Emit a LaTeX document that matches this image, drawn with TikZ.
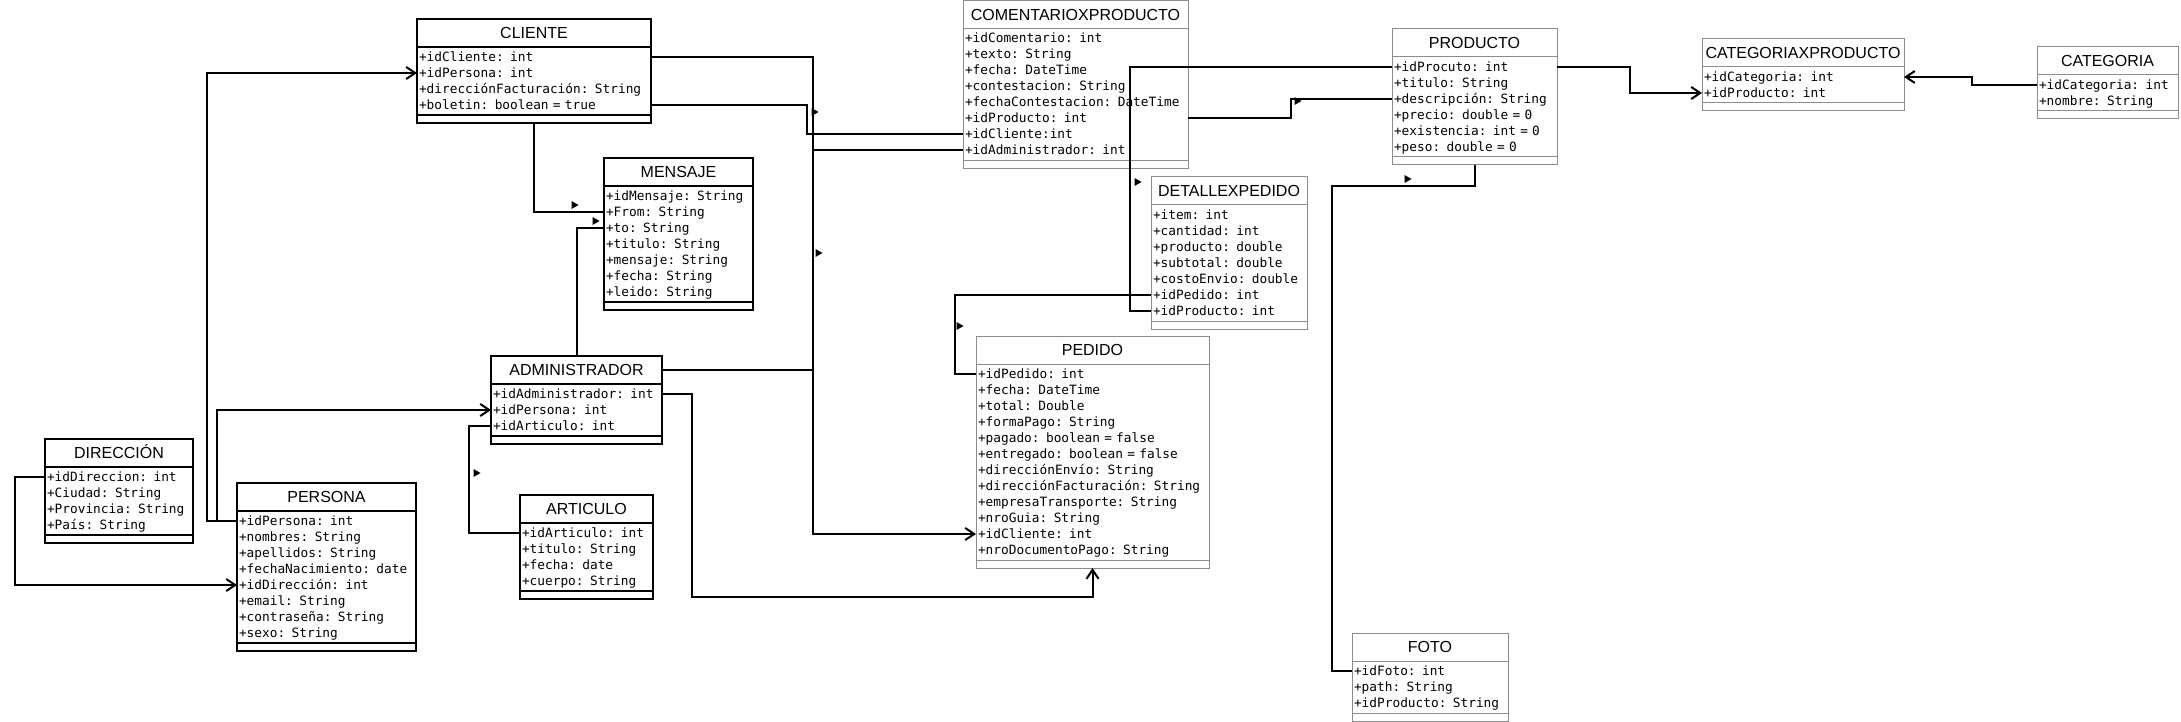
\documentclass[tikz,border=0pt]{standalone}
\usepackage{fontspec}
\setmainfont{Liberation Sans}
\newfontfamily\monoattr{DejaVu Sans Mono}
\usetikzlibrary{arrows.meta,positioning}
\definecolor{boxgray}{gray}{0.55}
\newcommand\titlefont{\fontsize{16pt}{18pt}\selectfont}
\newcommand\attrfont{\monoattr\fontsize{12.8pt}{16pt}\selectfont}
\newcommand\rs{\rule[-3.5pt]{0pt}{16pt}}

\begin{document}
\begin{tikzpicture}[x=1pt,y=-1pt,
hdr/.style={draw,outer sep=0pt,inner sep=0pt,anchor=north west,minimum height=28pt,
text height=11.5pt,text depth=0pt,font=\titlefont},
attrs/.style={draw,outer sep=0pt,inner xsep=2pt,inner ysep=2pt,align=left,font=\attrfont},
foot/.style={draw,outer sep=0pt,inner sep=0pt,minimum height=8pt},
heavy/.style={line width=2pt},
light/.style={line width=1pt,draw=boxgray},
link/.style={line width=2pt},
navi/.style={-{Straight Barb[length=9pt,width=12pt]}}]
\fill[white] (0,0) rectangle (2181,722);
\useasboundingbox (0,0) rectangle (2181,722);
\node[hdr,heavy,minimum width=234pt] (cliente) at (417,19) {CLIENTE};
\node[attrs,heavy,text width=230pt,below=0pt of cliente] (cliente-a)
{\rs+idCliente: int\\\rs+idPersona: int\\\rs+direcciónFacturación: String\\\rs+boletin: boolean = true};
\node[foot,heavy,minimum width=234pt,below=0pt of cliente-a] (cliente-f) {};
\node[hdr,heavy,minimum width=149pt] (mensaje) at (604,158) {MENSAJE};
\node[attrs,heavy,text width=145pt,below=0pt of mensaje] (mensaje-a)
{\rs+idMensaje: String\\\rs+From: String\\\rs+to: String\\\rs+titulo: String\\\rs+mensaje: String\\\rs+fecha: String\\\rs+leido: String};
\node[foot,heavy,minimum width=149pt,below=0pt of mensaje-a] (mensaje-f) {};
\node[hdr,heavy,minimum width=148pt] (direccion) at (45,439) {DIRECCIÓN};
\node[attrs,heavy,text width=144pt,below=0pt of direccion] (direccion-a)
{\rs+idDireccion: int\\\rs+Ciudad: String\\\rs+Provincia: String\\\rs+País: String};
\node[foot,heavy,minimum width=148pt,below=0pt of direccion-a] (direccion-f) {};
\node[hdr,heavy,minimum width=179pt] (persona) at (237,483) {PERSONA};
\node[attrs,heavy,text width=175pt,below=0pt of persona] (persona-a)
{\rs+idPersona: int\\\rs+nombres: String\\\rs+apellidos: String\\\rs+fechaNacimiento: date\\\rs+idDirección: int\\\rs+email: String\\\rs+contraseña: String\\\rs+sexo: String};
\node[foot,heavy,minimum width=179pt,below=0pt of persona-a] (persona-f) {};
\node[hdr,heavy,minimum width=171pt] (admin) at (491,356) {ADMINISTRADOR};
\node[attrs,heavy,text width=167pt,below=0pt of admin] (admin-a)
{\rs+idAdministrador: int\\\rs+idPersona: int\\\rs+idArticulo: int};
\node[foot,heavy,minimum width=171pt,below=0pt of admin-a] (admin-f) {};
\node[hdr,heavy,minimum width=133pt] (articulo) at (520,495) {ARTICULO};
\node[attrs,heavy,text width=129pt,below=0pt of articulo] (articulo-a)
{\rs+idArticulo: int\\\rs+titulo: String\\\rs+fecha: date\\\rs+cuerpo: String};
\node[foot,heavy,minimum width=133pt,below=0pt of articulo-a] (articulo-f) {};
\node[hdr,light,minimum width=233pt] (pedido) at (976,336) {PEDIDO};
\node[attrs,light,text width=229pt,below=0pt of pedido] (pedido-a)
{\rs+idPedido: int\\\rs+fecha: DateTime\\\rs+total: Double\\\rs+formaPago: String\\\rs+pagado: boolean = false\\\rs+entregado: boolean = false\\\rs+direcciónEnvío: String\\\rs+direcciónFacturación: String\\\rs+empresaTransporte: String\\\rs+nroGuia: String\\\rs+idCliente: int\\\rs+nroDocumentoPago: String};
\node[foot,light,minimum width=233pt,below=0pt of pedido-a] (pedido-f) {};
\node[hdr,light,minimum width=225pt] (coment) at (963,0.5) {COMENTARIOXPRODUCTO};
\node[attrs,light,text width=221pt,below=0pt of coment] (coment-a)
{\rs+idComentario: int\\\rs+texto: String\\\rs+fecha: DateTime\\\rs+contestacion: String\\\rs+fechaContestacion: DateTime\\\rs+idProducto: int\\\rs+idCliente:int\\\rs+idAdministrador: int};
\node[foot,light,minimum width=225pt,below=0pt of coment-a] (coment-f) {};
\node[hdr,light,minimum width=165pt] (producto) at (1392,29) {PRODUCTO};
\node[attrs,light,text width=161pt,below=0pt of producto] (producto-a)
{\rs+idProcuto: int\\\rs+titulo: String\\\rs+descripción: String\\\rs+precio: double = 0\\\rs+existencia: int = 0\\\rs+peso: double = 0};
\node[foot,light,minimum width=165pt,below=0pt of producto-a] (producto-f) {};
\node[hdr,light,minimum width=202pt] (catxprod) at (1702,39) {CATEGORIAXPRODUCTO};
\node[attrs,light,text width=198pt,below=0pt of catxprod] (catxprod-a)
{\rs+idCategoria: int\\\rs+idProducto: int};
\node[foot,light,minimum width=202pt,below=0pt of catxprod-a] (catxprod-f) {};
\node[hdr,light,minimum width=141pt] (categoria) at (2037,47) {CATEGORIA};
\node[attrs,light,text width=137pt,below=0pt of categoria] (categoria-a)
{\rs+idCategoria: int\\\rs+nombre: String};
\node[foot,light,minimum width=141pt,below=0pt of categoria-a] (categoria-f) {};
\node[hdr,light,minimum width=156pt] (detalle) at (1151,177) {DETALLEXPEDIDO};
\node[attrs,light,text width=152pt,below=0pt of detalle] (detalle-a)
{\rs+item: int\\\rs+cantidad: int\\\rs+producto: double\\\rs+subtotal: double\\\rs+costoEnvio: double\\\rs+idPedido: int\\\rs+idProducto: int};
\node[foot,light,minimum width=156pt,below=0pt of detalle-a] (detalle-f) {};
\node[hdr,light,minimum width=156pt] (foto) at (1352,633) {FOTO};
\node[attrs,light,text width=152pt,below=0pt of foto] (foto-a)
{\rs+idFoto: int\\\rs+path: String\\\rs+idProducto: String};
\node[foot,light,minimum width=156pt,below=0pt of foto-a] (foto-f) {};
\draw[link,navi] ([yshift=-10pt]persona-a.north west)--++(-30,0)|-([yshift=-26pt]cliente-a.north west);
\draw[link,navi] ([yshift=-10pt]persona-a.north west)--++(-20,0)|-([yshift=-26pt]admin-a.north west);
\draw[link,navi] ([yshift=-10pt]direccion-a.north west)--++(-30,0)|-([yshift=-74pt]persona-a.north west);
\draw[link] (cliente-f.south)|-([yshift=-26pt]mensaje-a.north west);
\draw[link] (admin.north)|-([yshift=-42pt]mensaje-a.north west);
\draw[link] ([yshift=-10pt]articulo-a.north west)--++(-51,0)|-([yshift=-42pt]admin-a.north west);
\draw[link,navi] ([yshift=-10pt]admin-a.north east)--++(30,0)--++(0,203)-|(pedido-f.south);
\draw[link,navi] ([yshift=-10pt]cliente-a.north east)--++(162,0)|-([yshift=-170pt]pedido-a.north west);
\draw[link] ([yshift=-58pt]cliente-a.north east)--++(156,0)|-([yshift=-106pt]coment-a.north west);
\draw[link] (admin.east)--++(151,0)|-([yshift=-122pt]coment-a.north west);
\draw[link] ([yshift=-90pt]coment-a.north east)--++(103,0)|-([yshift=-42pt]producto-a.north west);
\draw[link] ([yshift=-10pt]producto-a.north west)--++(-262,0)|-([yshift=-106pt]detalle-a.north west);
\draw[link] ([yshift=-90pt]detalle-a.north west)--++(-196,0)|-([yshift=-10pt]pedido-a.north west);
\draw[link] (producto-f.south)--++(0,21)--++(-142.5,0)|-([yshift=-10pt]foto-a.north west);
\draw[link,navi] ([yshift=-10pt]producto-a.north east)--++(73,0)|-([yshift=-26pt]catxprod-a.north west);
\draw[link,navi] ([yshift=-10pt]categoria-a.north west)--++(-65,0)|-([yshift=-10pt]catxprod-a.north east);
\fill (571.5,201)--++(7,4)--++(-7,4)--cycle;
\fill (592.5,217)--++(7,4)--++(-7,4)--cycle;
\fill (811.5,108)--++(7,4)--++(-7,4)--cycle;
\fill (815.5,249)--++(7,4)--++(-7,4)--cycle;
\fill (473.5,469)--++(7,4)--++(-7,4)--cycle;
\fill (1294.5,97)--++(7,4)--++(-7,4)--cycle;
\fill (1134.5,178)--++(7,4)--++(-7,4)--cycle;
\fill (956.5,322)--++(7,4)--++(-7,4)--cycle;
\fill (1404.5,175)--++(7,4)--++(-7,4)--cycle;
\end{tikzpicture}
\end{document}
